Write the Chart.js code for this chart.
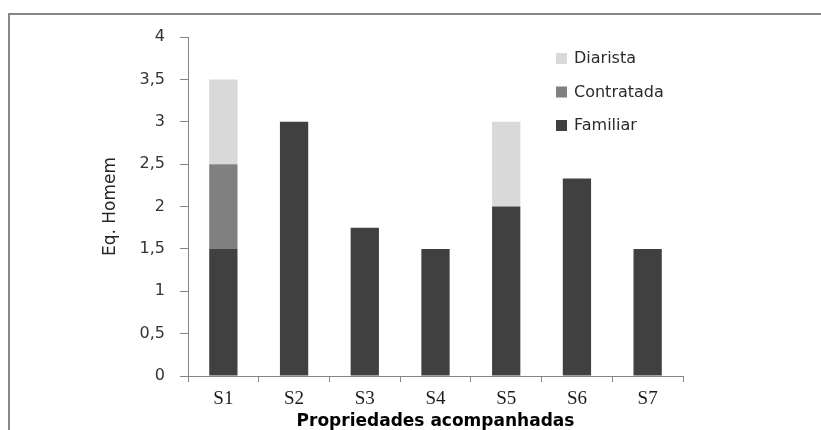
<!DOCTYPE html>
<html>
<head>
<meta charset="utf-8">
<script src="https://cdn.jsdelivr.net/npm/chart.js@4/dist/chart.umd.min.js"></script>
<style>
  html, body { margin: 0; padding: 0; background: #ffffff; }
  #wrap { position: relative; width: 821px; height: 430px; }
</style>
</head>
<body>
<div id="wrap"><canvas id="c" width="821" height="430"></canvas></div>
<script>
// ---- data ----
const categories = ['S1', 'S2', 'S3', 'S4', 'S5', 'S6', 'S7'];
const familiar   = [1.5, 3, 1.75, 1.5, 2, 2.33, 1.5];
const contratada = [1, null, null, null, null, null, null];
const diarista   = [1, null, null, null, 1, null, null];
const seriesNames = ['Familiar', 'Contratada', 'Diarista'];
const yTickLabels = ['0', '0,5', '1', '1,5', '2', '2,5', '3', '3,5', '4'];
const xTitle = 'Propriedades acompanhadas';
const yTitle = 'Eq. Homem';

const colors = ['#404040', '#808080', '#d9d9d9'];
const axisColor = '#868686';

const framePlugin = {
  id: 'frame',
  afterDraw(chart) {
    const ctx = chart.ctx;
    ctx.save();
    ctx.strokeStyle = '#878787';
    ctx.lineWidth = 2;
    ctx.beginPath();
    ctx.moveTo(9, 430);
    ctx.lineTo(9, 14);
    ctx.lineTo(821, 14);
    ctx.stroke();
    ctx.restore();
  }
};

const legendPlugin = {
  id: 'customLegend',
  afterDraw(chart) {
    const ctx = chart.ctx;
    const ds = chart.data.datasets.slice().reverse();
    ctx.save();
    ctx.font = '16px "DejaVu Sans"';
    ctx.textBaseline = 'middle';
    ctx.textAlign = 'left';
    ds.forEach((d, i) => {
      const cy = 58.5 + i * 33.5;
      ctx.fillStyle = d.backgroundColor;
      ctx.fillRect(556, cy - 5.5, 11, 11);
      ctx.fillStyle = '#2a2a2a';
      ctx.fillText(d.label, 574, cy + 0.5);
    });
    ctx.restore();
  }
};

new Chart(document.getElementById('c'), {
  type: 'bar',
  data: {
    labels: categories,
    datasets: [
      { label: seriesNames[0], data: familiar,   backgroundColor: colors[0] },
      { label: seriesNames[1], data: contratada, backgroundColor: colors[1] },
      { label: seriesNames[2], data: diarista,   backgroundColor: colors[2] }
    ]
  },
  options: {
    responsive: false,
    animation: false,
    devicePixelRatio: 1,
    layout: { padding: { left: 97, right: 138, top: 37, bottom: 0 } },
    datasets: { bar: { barPercentage: 0.4, categoryPercentage: 1.0, borderWidth: 0 } },
    plugins: { legend: { display: false }, tooltip: { enabled: false } },
    scales: {
      x: {
        stacked: true,
        afterFit(s) { s.height = 54; },
        border: { color: axisColor, width: 1 },
        grid: { offset: true, drawOnChartArea: false, drawTicks: true, tickLength: 6, color: axisColor },
        ticks: { color: '#1a1a1a', font: { family: '"Liberation Serif"', size: 19 }, padding: 6, maxRotation: 0 },
        title: { display: true, text: xTitle, color: '#000000',
                 font: { family: '"DejaVu Sans"', size: 17, weight: 'bold', lineHeight: 1 },
                 padding: { top: 0, bottom: 0 } }
      },
      y: {
        stacked: true,
        min: 0, max: 4,
        afterFit(s) { s.width = 91; },
        border: { color: axisColor, width: 1 },
        grid: { drawOnChartArea: false, drawTicks: true, tickLength: 8, color: axisColor },
        ticks: {
          stepSize: 0.5,
          color: '#333333',
          font: { family: '"DejaVu Sans"', size: 16 },
          padding: 15,
          callback: (v, i) => yTickLabels[i]
        },
        title: { display: true, text: yTitle, color: '#262626',
                 font: { family: '"DejaVu Sans"', size: 17 },
                 padding: { top: 3, bottom: 0 } }
      }
    }
  },
  plugins: [framePlugin, legendPlugin]
});
</script>
</body>
</html>
